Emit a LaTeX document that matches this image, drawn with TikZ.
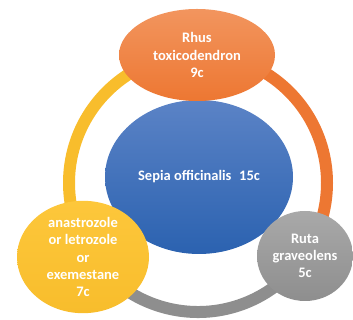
\documentclass[tikz,border=0pt]{standalone}
\usepackage{fontspec}
\setmainfont{Carlito}
\usetikzlibrary{shapes.geometric}
\definecolor{orgA}{HTML}{F2955E}
\definecolor{orgB}{HTML}{ED7732}
\definecolor{bluA}{HTML}{5B83C6}
\definecolor{bluB}{HTML}{2B62B0}
\definecolor{yelA}{HTML}{FDC73B}
\definecolor{yelB}{HTML}{F8BD2C}
\definecolor{gryA}{HTML}{A9A9A9}
\definecolor{gryB}{HTML}{8E8E8E}
\begin{document}
\begin{tikzpicture}[x=1pt,y=1pt,
  bub/.style={ellipse, inner sep=0pt, text=white, align=center,
    font=\bfseries\fontsize{14.5}{17.3}\selectfont},
  ring/.style={line width=12pt}]
\useasboundingbox (0,0) rectangle (353,320);
\coordinate (c) at (198,137);
\draw[ring, orgB] ([shift={(90:129)}]c) arc (90:-35:129);
\draw[ring, yelB] ([shift={(90:129)}]c) arc (90:215:129);
\draw[ring, gryB] ([shift={(210:129)}]c) arc (210:335:129);
\node[bub, top color=bluA, bottom color=bluB, minimum width=188pt, minimum height=154pt] (sepia) at (199,143) {Sepia officinalis\hspace{0.3em} 15c};
\node[bub, top color=orgA, bottom color=orgB, minimum width=156pt, minimum height=92pt] (rhus) at (197,265) {Rhus\\toxicodendron\\9c};
\node[bub, top color=yelA, bottom color=yelB, minimum width=132pt, minimum height=98pt] (ana) at (83,63) {anastrozole\\or letrozole\\or\\exemestane\\7c};
\node[bub, top color=gryA, bottom color=gryB, minimum width=96pt, minimum height=90pt] (ruta) at (305,64) {Ruta\\graveolens\\5c};
\end{tikzpicture}
\end{document}
